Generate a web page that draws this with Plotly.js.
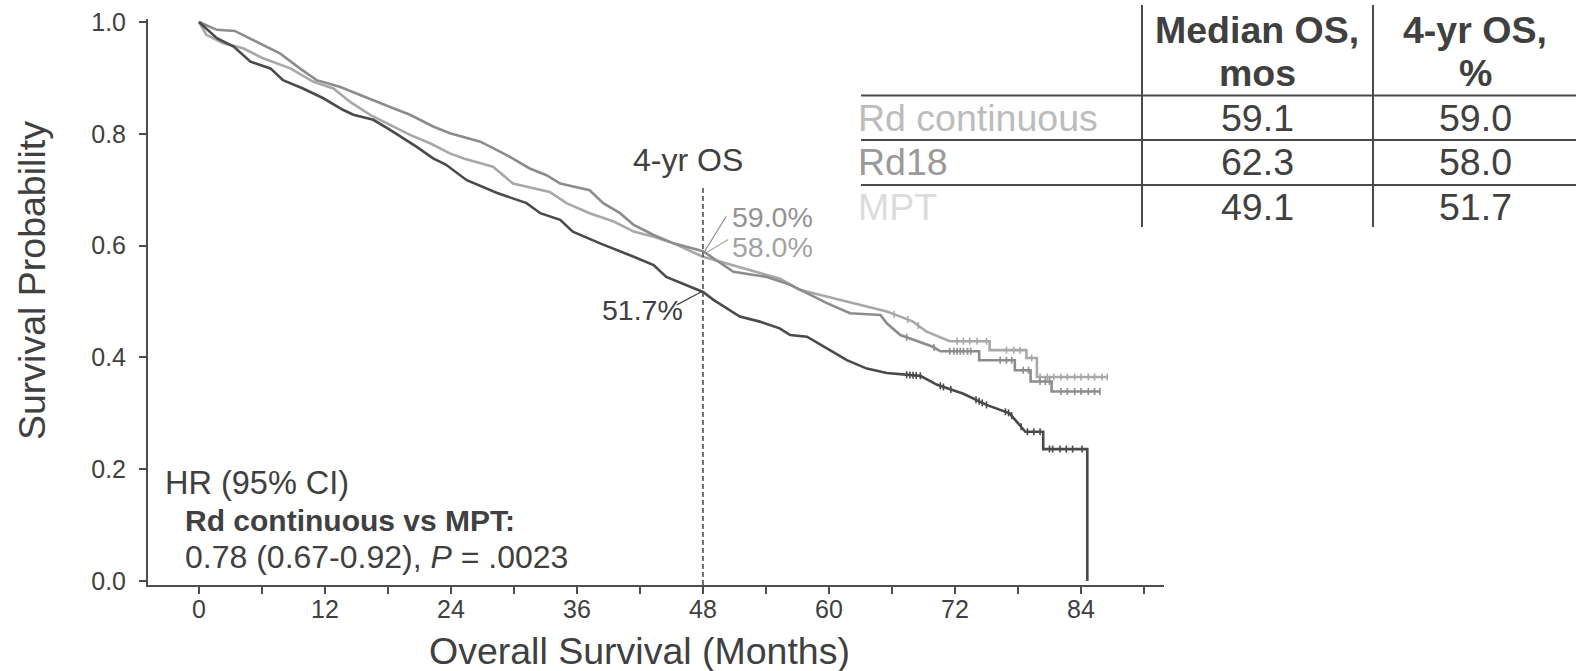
<!DOCTYPE html>
<html>
<head>
<meta charset="utf-8">
<script src="https://cdn.plot.ly/plotly-3.0.1.min.js"></script>
<style>html,body{margin:0;padding:0;background:#fff;}#chart{width:1576px;height:671px;}</style>
</head>
<body>
<div id="chart"></div>
<script>
// ---------------- DATA ----------------
const monthTicks = [0, 6, 12, 18, 24, 30, 36, 42, 48, 54, 60, 66, 72, 78, 84, 90];
const survTicks = [0, 0.2, 0.4, 0.6, 0.8, 1.0];

// Upper curve before 48 mo (medium grey)
const rd18Months = [0, 1.7, 3.4, 5.5, 7.7, 9.6, 11.2, 13.4, 16.0, 18.2, 20.1, 22.3, 23.9, 26.8, 29.3, 31.5, 33.1, 34.4, 37.2, 38.5, 40.1, 41.4, 43.3, 45.2, 48.0, 50.9, 54.1, 56.3, 57.9, 59.8, 62.0, 64.9, 65.5, 66.8, 69.9, 70.6, 74.3, 74.3, 77.7, 77.7, 79.2, 79.2, 81.2, 81.2, 85.8];
const rd18Surv   = [1.0, 0.986, 0.984, 0.965, 0.944, 0.917, 0.896, 0.884, 0.864, 0.848, 0.834, 0.813, 0.801, 0.786, 0.762, 0.738, 0.726, 0.711, 0.699, 0.676, 0.658, 0.637, 0.619, 0.604, 0.590, 0.553, 0.544, 0.530, 0.515, 0.497, 0.479, 0.476, 0.461, 0.440, 0.419, 0.411, 0.411, 0.395, 0.395, 0.377, 0.377, 0.357, 0.357, 0.339, 0.339];
const rd18Censor = [67.4, 70.0, 71.5, 71.9, 72.2, 72.5, 72.8, 73.2, 73.5, 76.3, 76.9, 77.4, 78.5, 79.0, 80.1, 80.6, 81.0, 82.1, 82.7, 83.4, 84.0, 84.7, 85.3, 85.8];

// Lighter grey curve
const rdcMonths = [0, 0.7, 2.3, 4.2, 6.1, 8.7, 10.9, 12.8, 14.4, 16.3, 18.2, 20.1, 22.0, 23.9, 25.2, 28.0, 29.9, 33.4, 35.0, 37.2, 39.5, 41.4, 43.3, 45.2, 48.0, 50.9, 55.3, 57.2, 60.4, 63.6, 65.5, 66.8, 68.0, 69.3, 71.5, 75.3, 75.3, 78.8, 78.8, 79.8, 79.8, 86.5];
const rdcSurv   = [1.0, 0.977, 0.962, 0.953, 0.935, 0.917, 0.893, 0.881, 0.857, 0.834, 0.816, 0.798, 0.783, 0.765, 0.756, 0.741, 0.711, 0.696, 0.676, 0.658, 0.643, 0.625, 0.616, 0.604, 0.580, 0.565, 0.541, 0.521, 0.506, 0.491, 0.482, 0.473, 0.464, 0.446, 0.429, 0.429, 0.413, 0.413, 0.399, 0.399, 0.365, 0.365];
const rdcCensor = [66.2, 67.5, 68.5, 72.2, 72.8, 73.4, 74.1, 75.0, 76.9, 77.6, 78.2, 79.3, 80.1, 80.8, 81.4, 82.1, 82.7, 83.4, 84.0, 84.7, 85.3, 86.0, 86.5];

// MPT (dark)
const mptMonths = [0, 1.7, 3.3, 4.9, 6.8, 8.0, 9.9, 11.8, 13.7, 14.7, 16.6, 18.2, 20.7, 22.3, 23.5, 25.5, 28.4, 31.2, 32.5, 34.4, 35.6, 36.3, 38.2, 41.4, 43.3, 44.5, 48.0, 49.0, 51.5, 53.4, 55.3, 56.3, 57.9, 59.8, 61.7, 63.6, 65.5, 68.7, 70.3, 72.8, 75.0, 77.2, 78.0, 78.7, 80.4, 80.4, 84.6, 84.6];
const mptSurv   = [1.0, 0.971, 0.956, 0.929, 0.917, 0.896, 0.881, 0.864, 0.843, 0.834, 0.825, 0.807, 0.777, 0.756, 0.745, 0.717, 0.694, 0.676, 0.658, 0.646, 0.625, 0.619, 0.604, 0.580, 0.565, 0.544, 0.517, 0.503, 0.473, 0.464, 0.452, 0.440, 0.437, 0.416, 0.395, 0.380, 0.372, 0.367, 0.351, 0.335, 0.315, 0.300, 0.283, 0.267, 0.267, 0.236, 0.236, 0.0];
const mptCensor = [67.4, 67.7, 68.0, 68.3, 68.7, 70.6, 70.9, 71.6, 74.0, 74.3, 74.6, 75.0, 76.8, 77.1, 77.4, 78.3, 78.9, 79.5, 80.1, 81.0, 81.3, 82.0, 82.6, 83.2, 84.1];

// table
const tableGroups = ['Rd continuous', 'Rd18', 'MPT'];
const medianOS = ['59.1', '62.3', '49.1'];
const fourYrOS = ['59.0', '58.0', '51.7'];
const labelPct = ['59.0%', '58.0%', '51.7%'];

// ---------------- STYLE ----------------
const FONT = 'Liberation Sans, Arial, Helvetica, sans-serif';
const TXT = '#404040';
const AX = '#4d4d4d';
const cRd18 = '#8c8c8c', cRdc = '#a8a8a8', cMpt = '#4a4a4a';
const L = 148, R = 1164, T = 19, B = 585;
const px = x => (x - L) / (R - L);
const py = y => (B - y) / (B - T);

function survAt(xs, ys, t) {
  for (let i = xs.length - 1; i >= 0; i--) {
    if (xs[i] <= t) {
      if (i === xs.length - 1) return ys[i];
      const x0 = xs[i], x1 = xs[i + 1];
      if (x1 === x0) return ys[i + 1];
      return ys[i] + (ys[i + 1] - ys[i]) * (t - x0) / (x1 - x0);
    }
  }
  return ys[0];
}

function curve(xs, ys, color) {
  return {x: xs, y: ys, type: 'scatter', mode: 'lines', line: {color: color, width: 2.6, shape: 'linear'}, hoverinfo: 'skip'};
}
function censor(cx, xs, ys, color) {
  return {x: cx, y: cx.map(t => survAt(xs, ys, t)), type: 'scatter', mode: 'markers',
    marker: {symbol: 'line-ns-open', size: 5, color: color, line: {color: color, width: 1.6}}, hoverinfo: 'skip'};
}

const data = [
  curve(rdcMonths, rdcSurv, cRdc),
  curve(rd18Months, rd18Surv, cRd18),
  curve(mptMonths, mptSurv, cMpt),
  censor(rdcCensor, rdcMonths, rdcSurv, cRdc),
  censor(rd18Censor, rd18Months, rd18Surv, cRd18),
  censor(mptCensor, mptMonths, mptSurv, cMpt)
];

const annotations = [];
const shapes = [];

// axis titles
annotations.push({xref: 'paper', yref: 'paper', x: px(32), y: py(281), text: 'Survival Probability', textangle: -90,
  showarrow: false, font: {family: FONT, size: 37.5, color: TXT}, xanchor: 'center', yanchor: 'middle'});
annotations.push({xref: 'paper', yref: 'paper', x: px(639), y: py(651), text: 'Overall Survival (Months)',
  showarrow: false, font: {family: FONT, size: 37.5, color: TXT}, xanchor: 'center', yanchor: 'middle'});

// 4-yr OS marker
annotations.push({xref: 'x', yref: 'y', x: 46.6, y: 0.753, text: '4-yr OS', showarrow: false,
  font: {family: FONT, size: 32, color: TXT}, xanchor: 'center', yanchor: 'middle'});
shapes.push({type: 'line', xref: 'x', yref: 'y', x0: 48, x1: 48, y0: -0.007, y1: 0.706,
  line: {color: '#444', width: 1.5, dash: '5px,3px'}});

// percentage labels with leader lines
annotations.push({xref: 'x', yref: 'y', x: 50.55, y: 0.651, text: labelPct[0], showarrow: false,
  font: {family: FONT, size: 28.5, color: '#939393'}, xanchor: 'left', yanchor: 'middle'});
annotations.push({xref: 'x', yref: 'y', x: 50.55, y: 0.597, text: labelPct[1], showarrow: false,
  font: {family: FONT, size: 28.5, color: '#a3a3a3'}, xanchor: 'left', yanchor: 'middle'});
annotations.push({xref: 'x', yref: 'y', x: 46.25, y: 0.484, text: labelPct[2], showarrow: false,
  font: {family: FONT, size: 28.5, color: TXT}, xanchor: 'right', yanchor: 'middle'});
shapes.push({type: 'line', xref: 'x', yref: 'y', x0: 48.0, y0: 0.585, x1: 50.2, y1: 0.652, line: {color: '#8c8c8c', width: 1.2}});
shapes.push({type: 'line', xref: 'x', yref: 'y', x0: 48.4, y0: 0.588, x1: 50.4, y1: 0.611, line: {color: '#a8a8a8', width: 1.2}});
shapes.push({type: 'line', xref: 'x', yref: 'y', x0: 47.9, y0: 0.518, x1: 45.5, y1: 0.494, line: {color: '#444', width: 1.2}});

// HR block
annotations.push({xref: 'x', yref: 'y', x: -3.4, y: 0.176, text: 'HR (95% CI)', showarrow: false,
  font: {family: FONT, size: 32.5, color: TXT}, xanchor: 'left', yanchor: 'middle'});
annotations.push({xref: 'x', yref: 'y', x: -1.5, y: 0.109, text: '<b>Rd continuous vs MPT:</b>', showarrow: false,
  font: {family: FONT, size: 30, color: TXT}, xanchor: 'left', yanchor: 'middle'});
annotations.push({xref: 'x', yref: 'y', x: -1.5, y: 0.043, text: '0.78 (0.67-0.92), <i>P</i> = .0023', showarrow: false,
  font: {family: FONT, size: 32, color: TXT}, xanchor: 'left', yanchor: 'middle'});

// table
const tblLine = {color: '#4a4a4a', width: 2};
[1142, 1373].forEach(xv => shapes.push({type: 'line', xref: 'paper', yref: 'paper', x0: px(xv), x1: px(xv), y0: py(5), y1: py(227), line: tblLine}));
[95.5, 140, 185].forEach(yv => shapes.push({type: 'line', xref: 'paper', yref: 'paper', x0: px(861), x1: px(1576), y0: py(yv), y1: py(yv), line: tblLine}));
const TF = 37.5;
const hdrFont = {family: FONT, size: TF, color: TXT};
annotations.push({xref: 'paper', yref: 'paper', x: px(1257), y: py(30), text: '<b>Median OS,</b>', showarrow: false, font: hdrFont, xanchor: 'center', yanchor: 'middle'});
annotations.push({xref: 'paper', yref: 'paper', x: px(1257), y: py(73), text: '<b>mos</b>', showarrow: false, font: hdrFont, xanchor: 'center', yanchor: 'middle'});
annotations.push({xref: 'paper', yref: 'paper', x: px(1475), y: py(30), text: '<b>4-yr OS,</b>', showarrow: false, font: hdrFont, xanchor: 'center', yanchor: 'middle'});
annotations.push({xref: 'paper', yref: 'paper', x: px(1475), y: py(73), text: '<b>%</b>', showarrow: false, font: hdrFont, xanchor: 'center', yanchor: 'middle'});
const rowY = [118, 162, 207];
const rowColors = ['#bcbcbc', '#9a9a9a', '#dcdcdc'];
tableGroups.forEach((g, i) => {
  annotations.push({xref: 'paper', yref: 'paper', x: px(856), y: py(rowY[i]), text: g, showarrow: false,
    font: {family: FONT, size: TF, color: rowColors[i]}, xanchor: 'left', yanchor: 'middle'});
  annotations.push({xref: 'paper', yref: 'paper', x: px(1257), y: py(rowY[i]), text: medianOS[i], showarrow: false,
    font: {family: FONT, size: TF, color: TXT}, xanchor: 'center', yanchor: 'middle'});
  annotations.push({xref: 'paper', yref: 'paper', x: px(1475), y: py(rowY[i]), text: fourYrOS[i], showarrow: false,
    font: {family: FONT, size: TF, color: TXT}, xanchor: 'center', yanchor: 'middle'});
});

const layout = {
  width: 1576, height: 671,
  margin: {l: L, r: 1576 - R, t: T, b: 671 - B},
  paper_bgcolor: '#fff', plot_bgcolor: '#fff',
  showlegend: false,
  font: {family: FONT, color: TXT},
  xaxis: {
    range: [(L - 199) / 10.5, (R - 199) / 10.5],
    tickvals: monthTicks,
    ticktext: monthTicks.map(v => v % 12 === 0 ? String(v) : ''),
    ticks: 'outside', ticklen: 7, tickwidth: 2, tickcolor: AX,
    showline: true, linecolor: AX, linewidth: 2,
    showgrid: false, zeroline: false,
    tickfont: {family: FONT, size: 25, color: TXT},
    ticklabelstandoff: -6
  },
  yaxis: {
    range: [-(B - 581) / 559, 1 + (22 - T) / 559],
    tickvals: survTicks,
    ticktext: survTicks.map(v => v.toFixed(1)),
    ticks: 'outside', ticklen: 7, tickwidth: 2, tickcolor: AX,
    showline: true, linecolor: AX, linewidth: 2,
    showgrid: false, zeroline: false,
    tickfont: {family: FONT, size: 25, color: TXT},
    ticklabelstandoff: 8
  },
  annotations: annotations,
  shapes: shapes
};

Plotly.newPlot('chart', data, layout, {staticPlot: true, displayModeBar: false});
</script>
</body>
</html>
